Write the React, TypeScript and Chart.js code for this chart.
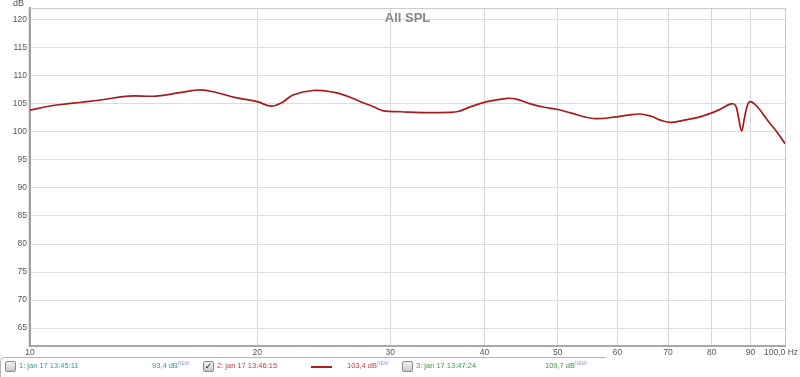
import React, { useEffect, useRef } from "react";
import { Chart, registerables } from "chart.js";

Chart.register(...registerables);

const freqs = [10, 10.5, 11, 11.7, 12.4, 13.5, 14.7, 15.8, 16.8, 17.7, 18.6, 19.3, 20, 20.9, 21.6, 22.3, 23.7, 25.2, 26.3, 27.4, 28.5, 29.4, 31, 33, 36, 37, 38, 40.3, 42.9, 44.2, 46, 48, 50, 52, 55.7, 59.9, 62, 64.3, 66.5, 68.4, 70.6, 73.5, 76.7, 80, 82.2, 84.8, 86, 86.8, 87.6, 88.4, 89.2, 90, 91.9, 94.8, 97.8, 100];
const spl = [103.9, 104.5, 104.9, 105.3, 105.7, 106.4, 106.4, 107.0, 107.5, 107.0, 106.2, 105.8, 105.4, 104.6, 105.3, 106.6, 107.4, 107.1, 106.4, 105.4, 104.5, 103.75, 103.6, 103.45, 103.5, 103.7, 104.3, 105.4, 106.0, 105.8, 105.0, 104.4, 104.0, 103.4, 102.4, 102.7, 103.0, 103.2, 102.8, 102.1, 101.7, 102.1, 102.6, 103.4, 104.1, 105.0, 104.7, 102.5, 100.2, 102.6, 104.8, 105.4, 104.5, 102.1, 99.8, 97.9];

const xTicks = [10, 20, 30, 40, 50, 60, 70, 80, 90, 100];
const xTickLabels = ["10", "20", "30", "40", "50", "60", "70", "80", "90", ""];
const yTicks = [65, 70, 75, 80, 85, 90, 95, 100, 105, 110, 115, 120];

const legendNames = ["1: jan 17 13:45:11", "2: jan 17 13:46:15", "3: jan 17 13:47:24"];
const legendValues = ["93,4 dB", "103,4 dB", "109,7 dB"];
const legendColors = ["#2f9a9e", "#c23a3a", "#3a9a3a"];
const legendChecked = [false, true, false];

const FONT = "'Liberation Sans', Arial, sans-serif";

const framePlugin = {
  id: "frame",
  afterDraw(chart: any) {
    const { ctx, chartArea } = chart;
    ctx.save();
    ctx.strokeStyle = "#c8c8c8";
    ctx.lineWidth = 1;
    ctx.beginPath();
    ctx.moveTo(chartArea.left, chartArea.top + 0.5);
    ctx.lineTo(chartArea.right, chartArea.top + 0.5);
    ctx.moveTo(chartArea.right + 0.5, chartArea.top);
    ctx.lineTo(chartArea.right + 0.5, chartArea.bottom);
    ctx.stroke();
    ctx.strokeStyle = "#e0e0e0";
    ctx.beginPath();
    ctx.moveTo(chartArea.left - 1.5, chartArea.top);
    ctx.lineTo(chartArea.left - 1.5, chartArea.bottom + 1);
    ctx.stroke();
    ctx.fillStyle = "#888888";
    ctx.font = "bold 13px " + FONT;
    ctx.textAlign = "center";
    ctx.textBaseline = "middle";
    ctx.fillText("All SPL", (chartArea.left + chartArea.right) / 2, 18);
    ctx.fillStyle = "#555555";
    ctx.font = "9px " + FONT;
    ctx.textAlign = "left";
    ctx.fillText("dB", 13, 4);
    ctx.font = "8.5px " + FONT;
    const xs = chart.scales.x;
    ctx.fillText("100,0 Hz", xs.getPixelForValue(100) - 21, chartArea.bottom + 7);
    ctx.restore();
  },
};

function CheckBox({ checked, left }: { checked: boolean; left: number }) {
  return (
    <div
      style={{
        position: "absolute",
        left,
        top: 361,
        width: 9,
        height: 9,
        border: "1px solid #8a8a8a",
        borderRadius: 2,
        background: "linear-gradient(#f4f4f4, #c8c8c8)",
        fontSize: 9,
        lineHeight: "9px",
        textAlign: "center",
        color: "#222",
        fontFamily: "'DejaVu Sans', sans-serif",
      }}
    >
      {checked ? "✓" : ""}
    </div>
  );
}

export default function App() {
  const ref = useRef<HTMLCanvasElement | null>(null);
  useEffect(() => {
    if (!ref.current) return;
    const chart = new Chart(ref.current, {
      type: "line",
      data: {
        datasets: [
          {
            data: freqs.map((f, i) => ({ x: f, y: spl[i] })),
            borderColor: "#a81b1d",
            borderWidth: 1.7,
            pointRadius: 0,
            tension: 0.4,
            fill: false,
          },
        ],
      },
      options: {
        animation: false,
        responsive: false,
        devicePixelRatio: 1,
        layout: { padding: { top: 8, right: 15, left: 0, bottom: 0 } },
        plugins: { legend: { display: false }, tooltip: { enabled: false }, title: { display: false } },
        scales: {
          x: {
            type: "logarithmic",
            min: 10,
            max: 100,
            afterBuildTicks: (s: any) => {
              s.ticks = xTicks.map((v) => ({ value: v }));
            },
            afterFit: (s: any) => {
              s.height = 31;
            },
            ticks: {
              autoSkip: false,
              maxRotation: 0,
              padding: 2,
              color: "#555",
              font: { size: 8.5, family: FONT },
              callback: (v: any) => {
                const i = xTicks.indexOf(Number(v));
                return i >= 0 ? xTickLabels[i] : "";
              },
            },
            grid: { color: "#d8d8d8", drawTicks: false },
            border: { color: "#a8a8a8", width: 2 },
          },
          y: {
            type: "linear",
            min: 61.8,
            max: 122.1,
            afterBuildTicks: (s: any) => {
              s.ticks = yTicks.map((v) => ({ value: v }));
            },
            afterFit: (s: any) => {
              s.width = 30;
            },
            ticks: {
              padding: 3,
              color: "#555",
              font: { size: 8.5, family: FONT },
            },
            grid: { color: "#dcdcdc", drawTicks: false },
            border: { color: "#a0a0a0", width: 2 },
          },
        },
      },
      plugins: [framePlugin],
    } as any);
    return () => chart.destroy();
  }, []);

  const entryLeft = [5, 203, 402];
  const valueLeft = [152, 347, 545];
  const textStyle = (left: number, color: string): React.CSSProperties => ({
    position: "absolute",
    left,
    top: 361,
    fontSize: 7.5,
    lineHeight: "10px",
    fontFamily: FONT,
    color,
    whiteSpace: "nowrap",
  });

  return (
    <div style={{ position: "fixed", left: 0, top: 0, width: 800, height: 377, background: "#fff", overflow: "hidden" }}>
      <canvas ref={ref} width={800} height={377} style={{ display: "block" }} />
      <div
        style={{
          position: "absolute",
          left: 0,
          top: 357,
          width: 605,
          height: 30,
          borderTop: "1px solid #b4b4b4",
          borderLeft: "1px solid #b4b4b4",
          borderTopLeftRadius: 5,
        }}
      />
      {legendNames.map((name, i) => (
        <React.Fragment key={i}>
          <CheckBox checked={legendChecked[i]} left={entryLeft[i]} />
          <div style={textStyle(entryLeft[i] + 14, legendColors[i])}>{name}</div>
          <div style={textStyle(valueLeft[i], legendColors[i])}>
            {legendValues[i]}
            <span style={{ fontSize: 5, color: "#8f9be6", position: "relative", top: -3 }}>NEW</span>
          </div>
        </React.Fragment>
      ))}
      <div style={{ position: "absolute", left: 311, top: 366, width: 21, height: 2, background: "#b01c1c" }} />
    </div>
  );
}
